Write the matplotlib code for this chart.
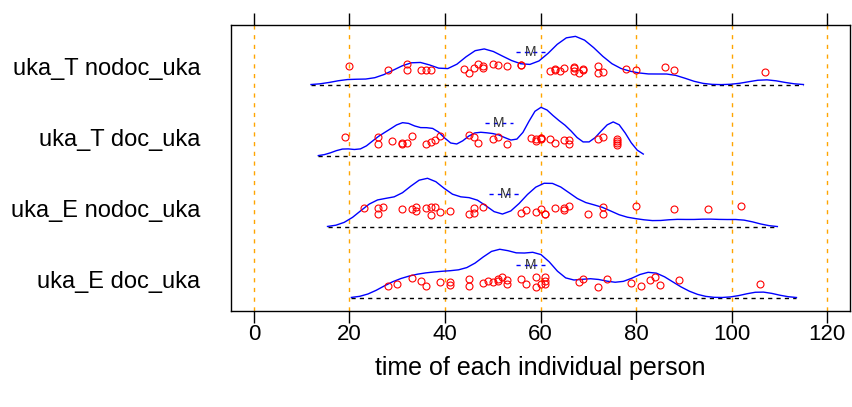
import matplotlib
matplotlib.use("Agg")
import matplotlib.pyplot as plt
import numpy as np

plt.rcParams['font.family'] = ['Liberation Sans', 'DejaVu Sans']

# groups from bottom to top
groups = ['uka_E doc_uka', 'uka_E nodoc_uka', 'uka_T doc_uka', 'uka_T nodoc_uka']

uka_E_doc = [28, 30, 33, 35, 36, 39, 41, 41, 45, 45, 48, 49, 50, 51, 51, 52, 53, 53,
             56, 57, 59, 59, 60, 61, 61, 61, 68, 69, 72, 74, 79, 81, 83, 84, 85, 89, 106]
uka_E_nodoc = [23, 26, 26, 27, 31, 33, 34, 34, 36, 37, 37, 38, 39, 41, 45, 46, 46, 48,
               56, 57, 59, 60, 61, 61, 63, 65, 65, 66, 70, 73, 73, 80, 88, 95, 102]
uka_T_doc = [19, 26, 26, 29, 31, 31, 32, 33, 36, 37, 38, 39, 45, 46, 47, 50, 51, 53,
             58, 59, 59, 60, 60, 60, 62, 63, 65, 66, 66, 72, 73, 76, 76, 76, 76]
uka_T_nodoc = [20, 28, 32, 32, 35, 36, 37, 44, 45, 46, 47, 48, 48, 50, 51, 53, 56, 56,
               62, 63, 63, 64, 65, 67, 67, 67, 68, 69, 69, 72, 72, 73, 78, 80, 86, 88, 107]

series = [uka_E_doc, uka_E_nodoc, uka_T_doc, uka_T_nodoc]
bandwidths = [3.3, 3.3, 2.4, 3.5]
cut = 2.3

xticks = [0, 20, 40, 60, 80, 100, 120]

fig = plt.figure(figsize=(8.52, 4.07), dpi=100)
ax = fig.add_axes([231 / 852, 1 - 311 / 407, 619 / 852, 286 / 407])

for xv in xticks:
    ax.axvline(xv, color='orange', lw=1, ls=(0, (3, 4)), zorder=1)

rng = np.random.default_rng(3)
for i, (vals, bw) in enumerate(zip(series, bandwidths)):
    y0 = i + 1
    v = np.array(vals, dtype=float)
    grid = np.linspace(v.min() - cut * bw, v.max() + cut * bw, 55)
    dens = np.exp(-0.5 * ((grid[:, None] - v[None, :]) / bw) ** 2).sum(axis=1)
    dens = dens - dens.min()
    dens = dens / dens.max() * 0.68
    base = y0 - 0.25
    ax.plot(grid, base + dens, color='blue', lw=1, zorder=3)
    ax.plot([grid[0], grid[-1]], [base, base], color='black', lw=1,
            ls=(0, (3, 3)), zorder=2)
    jit = rng.uniform(-0.1, 0.05, len(v))
    ax.plot(v, y0 + jit, 'o', mfc='none', mec='red', ms=5, mew=0.8, zorder=4)
    m = v.mean()
    se = v.std(ddof=1) / np.sqrt(len(v))
    ax.plot([m - se, m + se], [y0 + 0.21, y0 + 0.21], color='blue', lw=1,
            ls=(0, (3, 3)), zorder=4)
    ax.text(m, y0 + 0.21, 'M', ha='center', va='center', fontsize=10,
            color='#333333', zorder=5)

ax.set_xlim(-4.8, 124.8)
ax.set_ylim(0.56, 4.59)
ax.set_xticks(xticks)
ax.set_yticks([1, 2, 3, 4])
ax.set_yticklabels(groups, fontsize=17)
ax.tick_params(axis='y', length=0, pad=22)
ax.tick_params(axis='x', length=8.5, width=1, direction='out', labelsize=16,
               top=True, labeltop=False, pad=1)
ax.set_xlabel('time of each individual person', fontsize=18, labelpad=8)
for s in ax.spines.values():
    s.set_linewidth(1)

fig.savefig('out.png', dpi=100)
